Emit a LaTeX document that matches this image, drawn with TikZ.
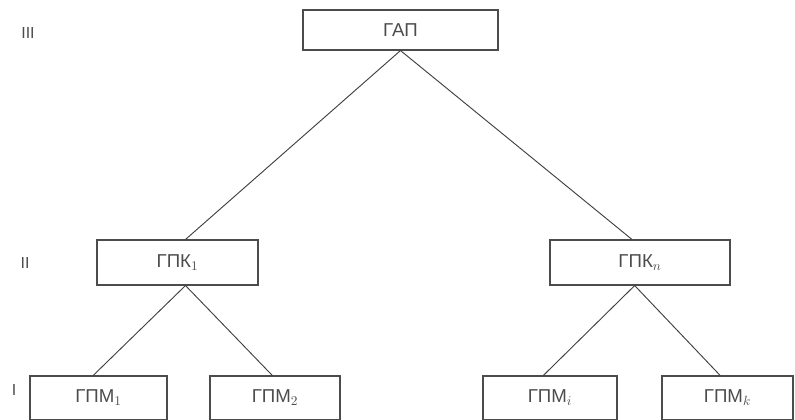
\documentclass[tikz,border=0pt]{standalone}
\usepackage{fontspec}
\setmainfont{Liberation Sans}

\begin{document}
\begin{tikzpicture}[x=0.75pt,y=-0.75pt,
    blk/.style={draw=black!70, line width=0.8pt, inner sep=0pt,
      minimum height=33.75pt, text=black!70, font=\fontsize{14}{16}\selectfont},
    lvl/.style={text=black!70, font=\fontsize{12}{14}\selectfont},
    link/.style={draw=black!75, line width=0.7pt}]

  \useasboundingbox (0,0) rectangle (795,419);

  % level marks
  \node[lvl] (l3) at (28,33) {III};
  \node[lvl] (l2) at (25,263) {II};
  \node[lvl] (l1) at (14,390) {I};

  % top level
  \node[blk, minimum width=146.25pt, minimum height=30pt] (gap) at (400.5,30) {ГАП};

  % middle level
  \node[blk, minimum width=120.75pt] (gpk1) at (177.5,262.5) {ГПК$_1$};
  \node[blk, minimum width=135pt] (gpkn) at (640,262.5) {ГПК$_n$};

  % bottom level (cut by the page edge)
  \node[blk, minimum width=102.75pt, minimum height=33pt] (gpm1) at (98.5,398) {ГПМ$_1$};
  \node[blk, minimum width=97.5pt, minimum height=33pt] (gpm2) at (275,398) {ГПМ$_2$};
  \node[blk, minimum width=100.5pt, minimum height=33pt] (gpmi) at (550,398) {ГПМ$_i$};
  \node[blk, minimum width=98.25pt, minimum height=33pt] (gpmk) at (727.5,398) {ГПМ$_k$};

  % connections
  \draw[link] (gap.south) -- ([xshift=6pt]gpk1.north);
  \draw[link] (gap.south) -- ([xshift=-6pt]gpkn.north);
  \draw[link] ([xshift=6pt]gpk1.south) -- ([xshift=-4pt]gpm1.north);
  \draw[link] ([xshift=6pt]gpk1.south) -- ([xshift=-2pt]gpm2.north);
  \draw[link] ([xshift=-4pt]gpkn.south) -- ([xshift=-5pt]gpmi.north);
  \draw[link] ([xshift=-4pt]gpkn.south) -- ([xshift=-5.5pt]gpmk.north);

\end{tikzpicture}
\end{document}
